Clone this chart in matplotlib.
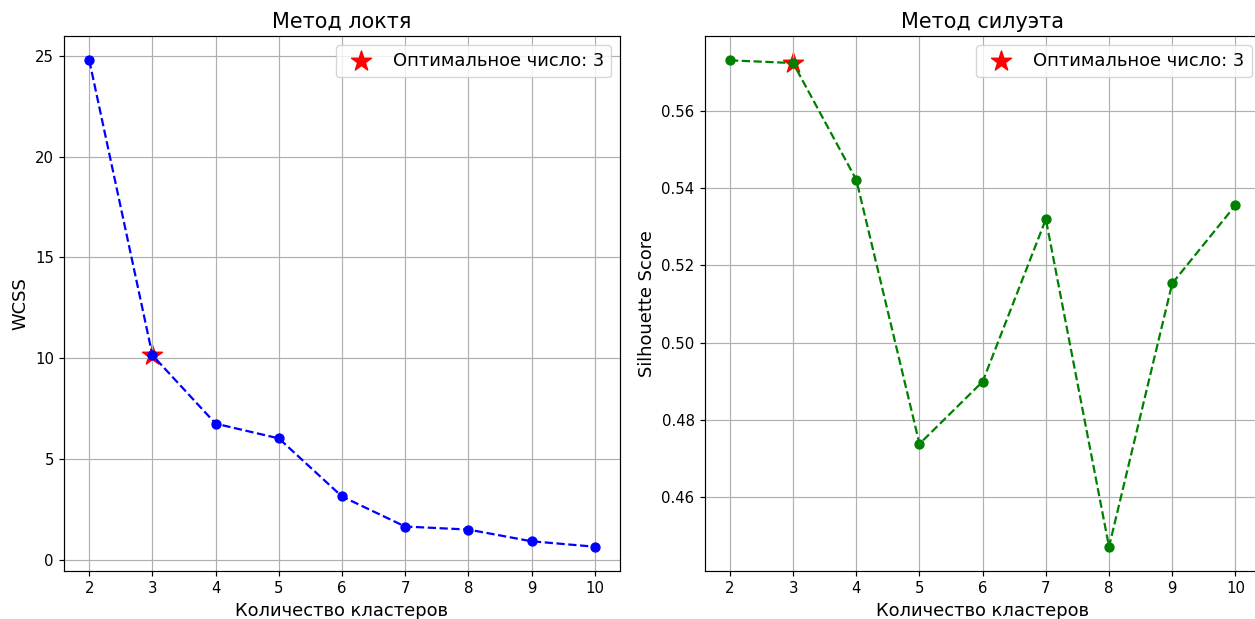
import matplotlib
matplotlib.use("Agg")
import matplotlib.pyplot as plt

k_values = [2, 3, 4, 5, 6, 7, 8, 9, 10]
wcss = [24.77, 10.15, 6.76, 6.03, 3.15, 1.66, 1.51, 0.93, 0.66]
silhouette = [0.5730, 0.5723, 0.5421, 0.4738, 0.4899, 0.5319, 0.4472, 0.5153, 0.5355]
optimal_k = 3
legend_label = "Оптимальное число: 3"

s = 1.07
plt.rcParams.update({
    'font.size': 10 * s,
    'xtick.labelsize': 10 * s,
    'ytick.labelsize': 10 * s,
    'axes.linewidth': 0.8 * s,
    'grid.linewidth': 0.8 * s,
    'xtick.major.width': 0.8 * s,
    'ytick.major.width': 0.8 * s,
    'xtick.major.size': 3.5 * s,
    'ytick.major.size': 3.5 * s,
    'lines.linewidth': 1.5 * s,
})

fig = plt.figure(figsize=(12.55, 6.19), dpi=100)
ax1 = fig.add_axes([0.051, 0.0775, 0.443, 0.8643])
ax2 = fig.add_axes([0.5615, 0.0775, 0.443, 0.8643])

opt_idx = k_values.index(optimal_k)

for ax, vals, fmt, title, ylabel in [
    (ax1, wcss, 'bo--', "Метод локтя", "WCSS"),
    (ax2, silhouette, 'go--', "Метод силуэта", "Silhouette Score"),
]:
    ax.scatter([optimal_k], [vals[opt_idx]], marker='*', s=200 * s * s, color='red',
               label=legend_label, zorder=1)
    ax.plot(k_values, vals, fmt, markersize=6 * s, zorder=2)
    ax.set_title(title, fontsize=14 * s)
    ax.set_xlabel("Количество кластеров", fontsize=12 * s)
    ax.set_ylabel(ylabel, fontsize=12 * s)
    ax.set_xticks(k_values)
    ax.grid(True)
    ax.legend(loc='upper right', fontsize=12 * s)

fig.savefig("out.png", dpi=100)
